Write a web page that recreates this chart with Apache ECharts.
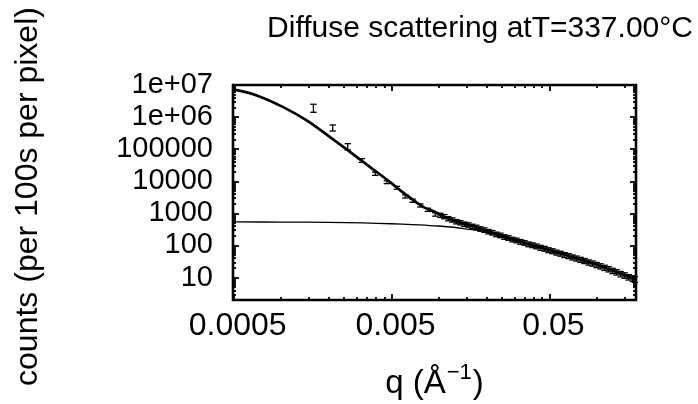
<!DOCTYPE html>
<html><head><meta charset="utf-8">
<script src="https://cdn.jsdelivr.net/npm/echarts@6/dist/echarts.min.js"></script>
<style>html,body{margin:0;padding:0;background:#fff}#c{width:698px;height:404px}</style>
</head><body><div id="c"></div>
<script>
// measured data points (q in 1/Angstrom, counts per 100 s per pixel, error)
const ptQ = [0.0016, 0.00212, 0.00264, 0.00324, 0.00394, 0.00467, 0.00541, 0.00611, 0.0068, 0.00761, 0.0085, 0.00947,
  0.01019, 0.0108, 0.01145, 0.01214, 0.01287, 0.01365, 0.01447, 0.01534, 0.01626, 0.01724,
  0.01828, 0.01938, 0.02055, 0.02178, 0.02309, 0.02448, 0.02596, 0.02752, 0.02918, 0.03093,
  0.0328, 0.03477, 0.03686, 0.03908, 0.04144, 0.04393, 0.04658, 0.04938, 0.05236, 0.05551,
  0.05885, 0.06239, 0.06615, 0.07013, 0.07435, 0.07883, 0.08358, 0.08861, 0.09394, 0.0996,
  0.1056, 0.112, 0.1187, 0.1258, 0.1334, 0.1415, 0.15, 0.159, 0.1686, 0.174];
const ptCounts = [1.96e6, 4.68e5, 1.22e5, 4.48e4, 1.73e4, 9440, 6300, 3390, 2500, 1780, 1300, 930,
  880, 800, 690, 630, 555, 518, 465, 440, 398, 370,
  330, 305, 272, 252, 224, 208, 186, 173, 155, 145,
  131, 122, 110, 103, 95, 86, 80, 72.5, 67.2, 61,
  56.3, 51, 47.3, 43, 39.8, 36.2, 33.3, 30, 27.8, 25,
  22.7, 20.4, 18.5, 16.4, 14.8, 13, 11.8, 10.4, 9.5, 8.9];
const ptErr = [5.5e5, 1.0e5, 2.7e4, 6000, 2000, 1000, 650, 380, 280, 200, 150, 110,
  130, 120, 105, 95, 85, 80, 72, 68, 62, 58,
  52, 48, 43, 40, 36, 34, 30, 28, 25, 24,
  22, 20, 18.5, 17.5, 16, 14.8, 13.8, 12.6, 11.7, 10.7,
  9.9, 9, 8.4, 7.7, 7.1, 6.5, 6, 5.5, 5.1, 4.6,
  4.2, 3.8, 3.5, 3.1, 2.8, 2.5, 2.3, 2.0, 1.9, 1.8];

// full fit curve
const fitQ = [0.000495, 0.0007, 0.00103, 0.00145, 0.00204, 0.00274, 0.00366, 0.0049, 0.00568, 0.00626,
  0.00798, 0.0093, 0.01019, 0.01145, 0.01287, 0.01447, 0.01626, 0.01828, 0.02055, 0.02309,
  0.02596, 0.02918, 0.0328, 0.03686, 0.04144, 0.04658, 0.05236, 0.05885, 0.06615, 0.07435,
  0.08358, 0.09394, 0.1056, 0.1187, 0.1334, 0.15, 0.1686, 0.177];
const fitCounts = [7.3e6, 4.74e6, 2.05e6, 7.9e5, 2.38e5, 8.1e4, 2.77e4, 9400, 5200, 3640,
  1570, 1150, 898, 698, 564, 471, 402, 334, 275, 226,
  188, 157, 132, 111, 94.4, 79.4, 66.9, 56.0, 47.1, 39.6,
  33.1, 27.7, 22.6, 18.4, 14.7, 11.7, 9.44, 8.61];

// background component
const bgQ = [0.000495, 0.001, 0.002, 0.0033, 0.005, 0.0068, 0.0093, 0.0124, 0.015, 0.018,
  0.0215, 0.0262, 0.033, 0.042, 0.053, 0.067, 0.085, 0.107, 0.135, 0.177];
const bgCounts = [540, 536, 528, 505, 475, 445, 410, 370, 325, 290,
  235, 172, 124, 89, 64.5, 45.5, 32, 21.9, 14.2, 8.5];

const xTickValues = [0.0005, 0.005, 0.05];
const xTickLabels = ['0.0005', '0.005', '0.05'];
const xMinorTicks = [0.001, 0.0015, 0.002, 0.0025, 0.003, 0.0035, 0.004, 0.0045,
  0.01, 0.015, 0.02, 0.025, 0.03, 0.035, 0.04, 0.045, 0.1, 0.15];
const yTickValues = [10, 100, 1000, 10000, 100000, 1e6, 1e7];
const yTickLabels = ['10', '100', '1000', '10000', '100000', '1e+06', '1e+07'];
const yMinorFactors = [2, 3, 4, 5, 6, 7, 8, 9];
const yMinorDecades = [1, 10, 100, 1000, 10000, 100000, 1e6];

const xMin = 0.000495, xMax = 0.177, yMin = 2, yMax = 1e7;
const FONT = "'Liberation Sans', Arial, Helvetica, sans-serif";

const yMinorTicks = [];
yMinorDecades.forEach(d => yMinorFactors.forEach(f => { const v = d * f; if (v >= yMin && v <= yMax) yMinorTicks.push(v); }));

function labelFor(values, labels) {
  return function (v) {
    let best = 0, bd = Infinity;
    values.forEach((t, i) => { const d = Math.abs(Math.log10(v) - Math.log10(t)); if (d < bd) { bd = d; best = i; } });
    return bd < 0.01 ? labels[best] : '';
  };
}

const tickStyle = { color: '#000', width: 1.8 };
function xAx(pos, ticks, len, withLabels) {
  const a = {
    type: 'log', logBase: 10, min: xMin, max: xMax, position: pos, gridIndex: 0,
    splitLine: { show: false }, axisLine: { show: false },
    axisTick: { show: true, inside: true, length: len, lineStyle: tickStyle, customValues: ticks },
    axisLabel: { show: false }
  };
  if (withLabels) {
    a.axisLabel = { show: true, customValues: xTickValues, formatter: labelFor(xTickValues, xTickLabels),
      fontSize: 32, color: '#000', fontFamily: FONT, margin: 10, padding: [0, 0, 0, 8] };
    a.name = '{a|q (Å}{s|−1}{a|)}';
    a.nameLocation = 'middle';
    a.nameGap = 62;
    a.nameTextStyle = { rich: {
      a: { fontSize: 33, color: '#000', fontFamily: FONT, lineHeight: 38, verticalAlign: 'bottom' },
      s: { fontSize: 22, color: '#000', fontFamily: FONT, lineHeight: 38, verticalAlign: 'top', padding: [0, 1, 0, 1] }
    } };
  }
  return a;
}
function yAx(pos, ticks, len, withLabels) {
  const a = {
    type: 'log', logBase: 10, min: yMin, max: yMax, position: pos, gridIndex: 0,
    splitLine: { show: false }, axisLine: { show: false },
    axisTick: { show: true, inside: true, length: len, lineStyle: tickStyle, customValues: ticks },
    axisLabel: { show: false }
  };
  if (withLabels) {
    a.axisLabel = { show: true, customValues: yTickValues, formatter: labelFor(yTickValues, yTickLabels),
      fontSize: 29, color: '#000', fontFamily: FONT, margin: 20 };
    a.name = 'counts (per 100s per pixel)';
    a.nameLocation = 'middle';
    a.nameGap = 189;
    a.nameTextStyle = { fontSize: 32, color: '#000', fontFamily: FONT, padding: [0, 8, 0, 0] };
  }
  return a;
}

const chart = echarts.init(document.getElementById('c'), null, { renderer: 'canvas' });
chart.setOption({
  animation: false,
  backgroundColor: '#fff',
  title: {
    text: 'Diffuse scattering atT=337.00°C', left: 475, top: 9, textAlign: 'center',
    textStyle: { fontSize: 30, fontWeight: 'normal', color: '#000', fontFamily: FONT }
  },
  grid: { left: 233, right: 62, top: 85, bottom: 104, show: true, borderColor: '#000', borderWidth: 2.6,
    backgroundColor: 'transparent', containLabel: false, outerBoundsMode: 'none' },
  xAxis: [xAx('bottom', xTickValues, 6, true), xAx('bottom', xMinorTicks, 3, false),
          xAx('top', xTickValues, 6, false), xAx('top', xMinorTicks, 3, false)],
  yAxis: [yAx('left', yTickValues, 6, true), yAx('left', yMinorTicks, 3, false),
          yAx('right', yTickValues, 6, false), yAx('right', yMinorTicks, 3, false)],
  series: [
    {
      type: 'line', xAxisIndex: 0, yAxisIndex: 0, showSymbol: false, symbol: 'none',
      data: bgQ.map((q, i) => [q, bgCounts[i]]), smooth: 0.35,
      lineStyle: { color: '#000', width: 1.3 }, z: 2
    },
    {
      type: 'line', xAxisIndex: 0, yAxisIndex: 0, showSymbol: false, symbol: 'none',
      data: fitQ.map((q, i) => [q, fitCounts[i]]), smooth: 0.35,
      lineStyle: { color: '#000', width: 2.7 }, z: 3
    },
    {
      type: 'custom', xAxisIndex: 0, yAxisIndex: 0, z: 4,
      data: ptQ.map((q, i) => [q, ptCounts[i], ptErr[i]]),
      encode: { x: 0, y: 1 },
      renderItem: function (params, api) {
        const q = api.value(0), c = api.value(1), e = api.value(2);
        const top = api.coord([q, c + e]);
        const bot = api.coord([q, Math.max(c - e, 1e-6)]);
        const hw = 3.2;
        const st = { stroke: '#000', lineWidth: 1.3 };
        return { type: 'group', children: [
          { type: 'line', shape: { x1: top[0], y1: top[1], x2: bot[0], y2: bot[1] }, style: st },
          { type: 'line', shape: { x1: top[0] - hw, y1: top[1], x2: top[0] + hw, y2: top[1] }, style: st },
          { type: 'line', shape: { x1: bot[0] - hw, y1: bot[1], x2: bot[0] + hw, y2: bot[1] }, style: st }
        ] };
      }
    }
  ]
});
</script></body></html>
